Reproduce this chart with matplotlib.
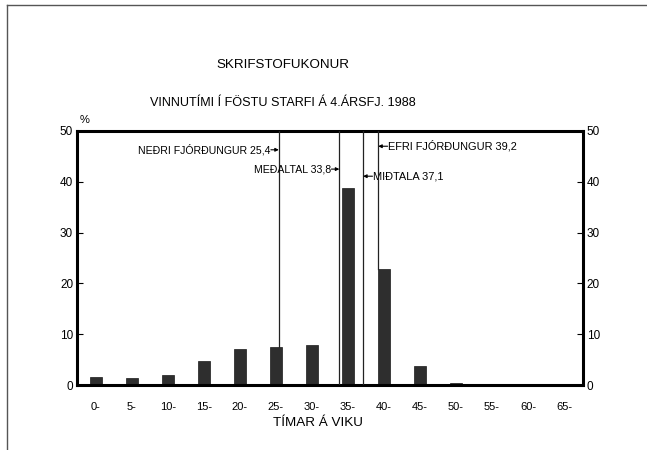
import matplotlib
matplotlib.use("Agg")
import matplotlib.pyplot as plt
from matplotlib.lines import Line2D

plt.rcParams['font.family'] = ['Liberation Sans Narrow', 'Liberation Sans', 'DejaVu Sans']

categories = ['0-', '5-', '10-', '15-', '20-', '25-', '30-', '35-', '40-', '45-', '50-', '55-', '60-', '65-']
hours_start = [0, 5, 10, 15, 20, 25, 30, 35, 40, 45, 50, 55, 60, 65]
shares = [1.6, 1.3, 2.0, 4.8, 7.1, 7.5, 7.8, 38.7, 22.8, 3.7, 0.4, 0.0, 0.1, 0.0]

stat_labels = ['NEÐRI FJÓRÐUNGUR 25,4', 'MEÐALTAL 33,8', 'MIÐTALA 37,1', 'EFRI FJÓRÐUNGUR 39,2']
stat_values = [25.4, 33.8, 37.1, 39.2]
stat_side = ['left', 'left', 'right', 'right']
stat_label_y = [46.3, 42.5, 41.1, 47.0]

title1 = 'SKRIFSTOFUKONUR'
title2 = 'VINNUTÍMI Í FÖSTU STARFI Á 4.ÁRSFJ. 1988'
xlabel = 'TÍMAR Á VIKU'
ylabel = '%'
yticks = [0, 10, 20, 30, 40, 50]

fig = plt.figure(figsize=(6.47, 4.5), dpi=100)
ax = fig.add_axes([0.1195, 0.1444, 0.781, 0.5645])

bar_w = 1.7
ax.bar(hours_start, shares, width=bar_w, color='#2e2e2e', edgecolor='#1a1a1a', linewidth=0.5, zorder=2)

for val, lab, side, ly in zip(stat_values, stat_labels, stat_side, stat_label_y):
    ymin = 0.0
    for h, s in zip(hours_start, shares):
        if abs(val - h) <= bar_w / 2:
            ymin = s
    ax.plot([val, val], [ymin, 50], color='#222222', lw=0.9, zorder=3)
    if side == 'left':
        ax.annotate('', xy=(val, ly), xytext=(val - 1.1, ly),
                    arrowprops=dict(arrowstyle='-|>', color='black', lw=0.8,
                                    mutation_scale=5, shrinkA=0, shrinkB=0))
        ax.text(val - 1.2, ly, lab, ha='right', va='center', fontsize=7.6)
    else:
        ax.annotate('', xy=(val, ly), xytext=(val + 1.3, ly),
                    arrowprops=dict(arrowstyle='-|>', color='black', lw=0.8,
                                    mutation_scale=5, shrinkA=0, shrinkB=0))
        ax.text(val + 1.4, ly, lab, ha='left', va='center', fontsize=7.9)

ax.set_xlim(-2.57, 67.57)
ax.set_ylim(0, 50)
ax.set_xticks(hours_start)
ax.set_xticklabels(categories, fontsize=8)
ax.tick_params(axis='x', length=0, pad=12)
ax.set_yticks(yticks)
ax.tick_params(axis='y', direction='in', length=4, width=0.8, labelsize=8.5,
               left=True, right=True, labelleft=True, labelright=True, pad=3)
for sp in ax.spines.values():
    sp.set_linewidth(2.2)
    sp.set_color('black')

ax.set_xlabel(xlabel, fontsize=9.7, labelpad=5)
ax.xaxis.set_label_coords(0.476, -0.127)
ax.text(0.005, 1.025, ylabel, transform=ax.transAxes, ha='left', va='bottom', fontsize=8)

fig.text(0.437, 0.856, title1, ha='center', va='center', fontsize=9.6)
fig.text(0.437, 0.771, title2, ha='center', va='center', fontsize=9.1)

# page frame
fig.add_artist(Line2D([0.011, 1.0], [0.989, 0.989], transform=fig.transFigure, color='#555555', lw=1))
fig.add_artist(Line2D([0.011, 0.011], [0.0, 0.989], transform=fig.transFigure, color='#555555', lw=1))

fig.savefig('out.png', dpi=100)
